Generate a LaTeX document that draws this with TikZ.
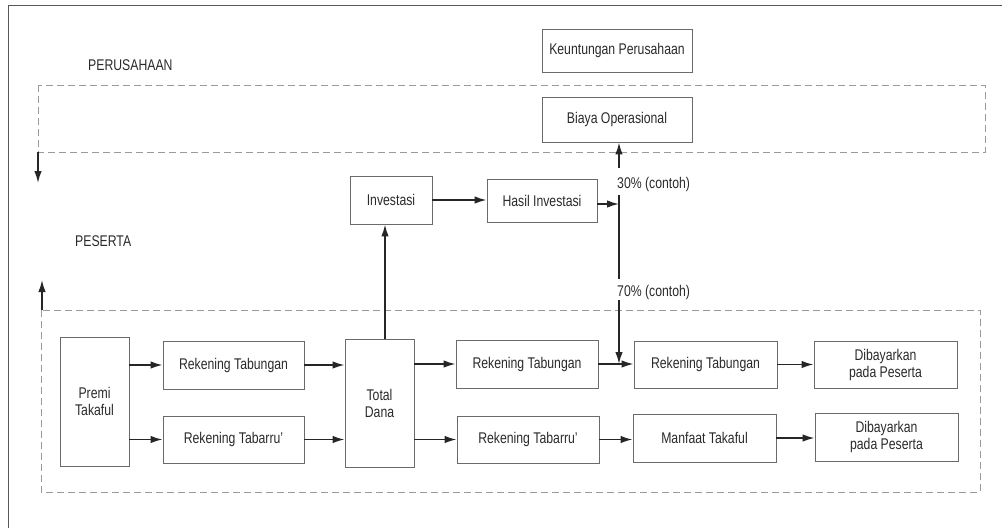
\documentclass[tikz,border=0pt]{standalone}
\usepackage{fontspec}
\setmainfont{Liberation Sans}[FakeStretch=0.79]
\usetikzlibrary{arrows.meta}
\definecolor{boxline}{HTML}{6A6A6A}
\definecolor{dashline}{HTML}{9A9A9A}
\definecolor{txt}{HTML}{2A2A2A}
\begin{document}
\begin{tikzpicture}[x=1pt,y=-1pt,
  box/.style={draw=boxline,line width=0.9pt,inner sep=0pt,align=center,text=txt,
    font=\fontsize{15.5}{17}\selectfont},
  arr/.style={draw=black!85,line width=1.6pt,-{Latex[length=12pt,width=7.5pt]}},
  plain/.style={draw=black!85,line width=1.6pt},
  zone/.style={draw=dashline,line width=1pt,dash pattern=on 7pt off 4pt},
  lbl/.style={text=txt,inner sep=0pt,anchor=west,font=\fontsize{15.5}{17}\selectfont}]
\useasboundingbox (0,0) rectangle (1002,528);
% frame
\draw[draw=black!65,line width=1pt] (8,528) -- (8,5) -- (1002,5);
% zones
\draw[zone] (38,85) rectangle (985,152);
\draw[zone] (41,310) rectangle (980,492);
\node[lbl] (perus) at (88,65) {PERUSAHAAN};
\node[lbl] (pes) at (75,241) {PESERTA};
\coordinate (z1) at (38,152);
\coordinate (z1e) at (38,183);
\coordinate (z2) at (42,310);
\coordinate (z2e) at (42,280);
\draw[arr] (z1) -- (z1e);
\draw[arr] (z2) -- (z2e);
% boxes
\node[box,minimum width=150pt,minimum height=43pt] (keun) at (617,50.5) {Keuntungan Perusahaan};
\node[box,minimum width=150pt,minimum height=45pt] (biaya) at (617,119.5) {Biaya Operasional};
\node[box,minimum width=82pt,minimum height=48pt] (inv) at (391,200) {Investasi};
\node[box,minimum width=110pt,minimum height=43pt] (hasil) at (542,200.5) {Hasil Investasi};
\node[box,minimum width=69pt,minimum height=129pt] (premi) at (94.5,401.5) {Premi\\Takaful};
\node[box,minimum width=141pt,minimum height=48pt] (rt1) at (233.5,365) {Rekening Tabungan};
\node[box,minimum width=141pt,minimum height=47pt] (rb1) at (233.5,439.5) {Rekening Tabarru'};
\node[box,minimum width=69pt,minimum height=128pt] (total) at (379.5,403) {Total\\Dana};
\node[box,minimum width=142pt,minimum height=48pt] (rt2) at (527,364) {Rekening Tabungan};
\node[box,minimum width=142pt,minimum height=47pt] (rb2) at (528,439.5) {Rekening Tabarru'};
\node[box,minimum width=143pt,minimum height=47pt] (rt3) at (705.5,364.5) {Rekening Tabungan};
\node[box,minimum width=143pt,minimum height=48pt] (manf) at (704.5,438) {Manfaat Takaful};
\node[box,minimum width=143pt,minimum height=47pt] (dib1) at (885.5,364.5) {Dibayarkan\\pada Peserta};
\node[box,minimum width=143pt,minimum height=48pt] (dib2) at (886.5,437) {Dibayarkan\\pada Peserta};
% labels on split line
\node[lbl] (p30) at (617,184) {30\% (contoh)};
\node[lbl] (p70) at (617,292) {70\% (contoh)};
% connectors
\draw[arr] (premi.east |- rt1.west) -- (rt1.west);
\draw[arr] (premi.east |- rb1.west) -- (rb1.west);
\draw[arr] (rt1.east) -- (rt1.east -| total.west);
\draw[arr] (rb1.east) -- (rb1.east -| total.west);
\draw[arr] (total.east |- rt2.west) -- (rt2.west);
\draw[arr] (total.east |- rb2.west) -- (rb2.west);
\draw[arr] (rt2.east) -- (rt2.east -| rt3.west);
\draw[arr] (rb2.east) -- (rb2.east -| manf.west);
\draw[arr] (rt3.east) -- (rt3.east -| dib1.west);
\draw[arr] (manf.east) -- (manf.east -| dib2.west);
\coordinate (up) at (385,0);
\draw[arr] (total.north -| up) -- (inv.south -| up);
\draw[arr] (inv.east) -- (inv.east -| hasil.west);
\coordinate (split) at (619,204);
\draw[arr] (hasil.east |- split) -- (split);
\coordinate (s1) at (619,168);
\coordinate (s2) at (619,195);
\coordinate (s3) at (619,279);
\coordinate (s4) at (619,300);
\draw[arr] (s1) -- (biaya.south -| s1);
\draw[plain] (s2) -- (s3);
\draw[arr] (s4) -- (rt2.east -| s4);
\end{tikzpicture}
\end{document}
